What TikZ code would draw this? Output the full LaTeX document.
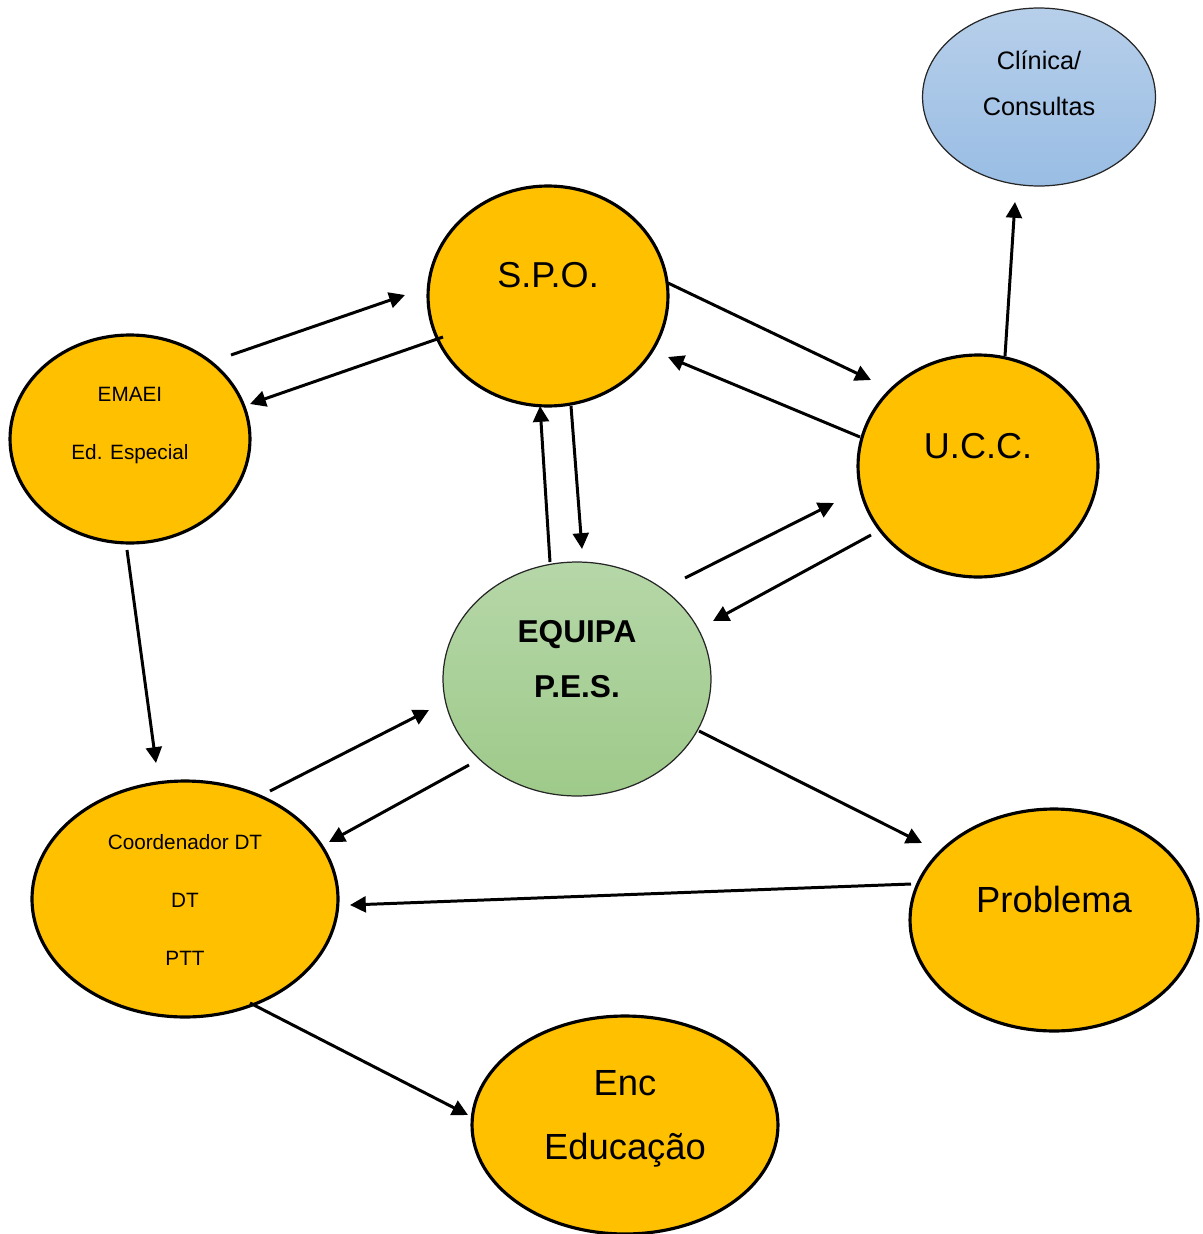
\documentclass[tikz,border=0pt]{standalone}
\usepackage{fontspec}
\setmainfont{Liberation Sans}
\usepackage{tikz}
\usetikzlibrary{arrows.meta,calc,shapes.geometric}
\definecolor{amber}{RGB}{255,192,0}
\definecolor{sage1}{RGB}{182,215,168}
\definecolor{sage2}{RGB}{158,202,138}
\definecolor{sky1}{RGB}{183,207,234}
\definecolor{sky2}{RGB}{153,189,228}

\begin{document}
\begin{tikzpicture}[x=0.02cm,y=-0.02cm]
    \tikzstyle{onode}=[ellipse,draw=black,line width=1.8pt,fill=amber,inner sep=0pt] %
    \tikzstyle{gnode}=[ellipse,draw=black!85,line width=0.7pt,top color=sage1,%
    bottom color=sage2,inner sep=0pt] %
    \tikzstyle{bnode}=[ellipse,draw=black!85,line width=0.7pt,top color=sky1,%
    bottom color=sky2,inner sep=0pt] %
    \tikzstyle{lbl}=[align=center,inner sep=0pt] %
    \tikzstyle{flow}=[line width=1.7pt,-{Triangle[length=9pt,width=9pt]}] %

    \useasboundingbox (0,0) rectangle (1203,1234);

    %% Ellipses
    \node[bnode,minimum width=4.66cm,minimum height=3.56cm] (CLIN) at (1039,97) {};
    \node[onode,minimum width=4.8cm,minimum height=4.4cm] (SPO) at (548,296) {};
    \node[onode,minimum width=4.8cm,minimum height=4.16cm] (EMAEI) at (130,439) {};
    \node[onode,minimum width=4.8cm,minimum height=4.44cm] (UCC) at (978,466) {};
    \node[gnode,minimum width=5.36cm,minimum height=4.68cm] (PES) at (577,679) {};
    \node[onode,minimum width=6.12cm,minimum height=4.72cm] (COORD) at (185,899) {};
    \node[onode,minimum width=5.76cm,minimum height=4.44cm] (PROB) at (1054,920) {};
    \node[onode,minimum width=6.12cm,minimum height=4.36cm] (ENC) at (625,1125) {};

    %% Texts
    \node[lbl,font=\fontsize{14.4}{26}\selectfont] (CLINT) at ($(CLIN)+(0,-14)$)
        {Clínica/\\Consultas};
    \node[lbl,font=\fontsize{20.5}{24}\selectfont] (SPOT) at ($(SPO)+(0,-21)$) {S.P.O.};
    \node[lbl,font=\fontsize{11.8}{33}\selectfont] (EMAEIT) at ($(EMAEI)+(0,-13)$)
        {EMAEI\\Ed. Especial};
    \node[lbl,font=\fontsize{20.5}{24}\selectfont] (UCCT) at ($(UCC)+(0,-20)$) {U.C.C.};
    \node[lbl,font=\bfseries\fontsize{18}{31}\selectfont] (PEST) at ($(PES)+(0,-20)$)
        {EQUIPA\\P.E.S.};
    \node[lbl,font=\fontsize{11.8}{33}\selectfont] (COORDT) at ($(COORD)+(0,1)$)
        {Coordenador DT\\DT\\PTT};
    \node[lbl,font=\fontsize{20.7}{24}\selectfont] (PROBT) at ($(PROB)+(0,-21)$) {Problema};
    \node[lbl,font=\fontsize{20.7}{36.3}\selectfont] (ENCT) at ($(ENC)+(0,-6)$)
        {Enc\\Educação};

    %% Arrows
    \draw[flow] ($(EMAEI)+(101,-84)$) -- ($(SPO)+(-143,-1)$);
    \draw[flow] ($(SPO)+(-105,41)$) -- ($(EMAEI)+(120,-35)$);
    \draw[flow] ($(SPO)+(120,-13)$) -- ($(UCC)+(-107,-86)$);
    \draw[flow] ($(UCC)+(-118,-29)$) -- ($(SPO)+(120,61)$);
    \draw[flow] ($(UCC)+(27,-110)$) -- ($(CLIN)+(-24,105)$);
    \draw[flow] ($(PES)+(-27,-117)$) -- ($(SPO)+(-8,110)$);
    \draw[flow] ($(SPO)+(23,110)$) -- ($(PES)+(5,-130)$);
    \draw[flow] ($(PES)+(108,-101)$) -- ($(UCC)+(-144,37)$);
    \draw[flow] ($(UCC)+(-107,69)$) -- ($(PES)+(136,-58)$);
    \draw[flow] ($(EMAEI)+(-3,111)$) -- ($(COORD)+(-29,-136)$);
    \draw[flow] ($(COORD)+(85,-108)$) -- ($(PES)+(-148,31)$);
    \draw[flow] ($(PES)+(-108,86)$) -- ($(COORD)+(144,-57)$);
    \draw[flow] ($(PES)+(122,52)$) -- ($(PROB)+(-132,-77)$);
    \draw[flow] ($(PROB)+(-143,-36)$) -- ($(COORD)+(165,6)$);
    \draw[flow] ($(COORD)+(65,104)$) -- ($(ENC)+(-157,-10)$);
\end{tikzpicture}
\end{document}
